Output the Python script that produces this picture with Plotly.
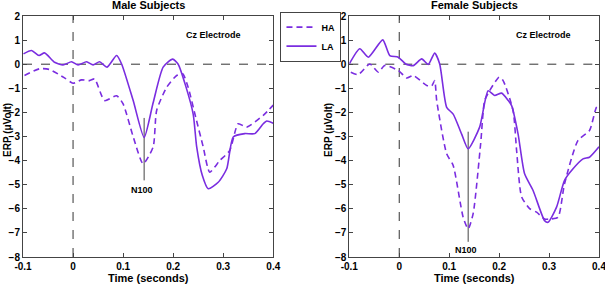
import plotly.graph_objects as go

# ---- Male subjects ----
male_la_t = [-0.099, -0.083, -0.068, -0.057, -0.037, -0.02, -0.003, 0.01, 0.027, 0.04, 0.053, 0.068, 0.087, 0.097,
             0.12, 0.142, 0.16, 0.18, 0.199, 0.21, 0.225, 0.24, 0.247, 0.258, 0.27, 0.29, 0.307, 0.32, 0.343, 0.363, 0.38, 0.387, 0.4]
male_la_v = [0.43, 0.57, 0.36, 0.47, 0.08, -0.03, 0.1, -0.03, 0.1, -0.03, 0.1, -0.12, 0.36, 0.01,
             -1.5, -3.04, -1.6, -0.12, 0.21, 0.0, -0.9, -2.07, -3.43, -4.6, -5.17, -4.9, -4.34, -3.02, -2.88, -2.88, -2.47, -2.36, -2.45]
male_ha_t = [-0.097, -0.067, -0.047, -0.017, 0.0, 0.017, 0.033, 0.043, 0.063, 0.087, 0.1, 0.12, 0.14, 0.16, 0.167, 0.187,
             0.207, 0.219, 0.23, 0.245, 0.26, 0.273, 0.293, 0.313, 0.33, 0.347, 0.38, 0.4]
male_ha_v = [-0.47, -0.19, -0.22, -0.57, -0.79, -0.65, -0.68, -0.61, -1.51, -1.31, -1.65, -3.0, -4.13, -3.43, -1.92, -0.96,
             -0.47, -0.4, -0.96, -2.2, -3.43, -4.48, -4.0, -3.58, -2.47, -2.61, -2.12, -1.7]

# ---- Female subjects ----
female_la_t = [-0.1, -0.079, -0.062, -0.033, -0.019, -0.002, 0.013, 0.028, 0.045, 0.058, 0.071, 0.081, 0.095, 0.108,
               0.125, 0.138, 0.161, 0.178, 0.191, 0.205, 0.218, 0.225, 0.238, 0.251, 0.268, 0.291, 0.298, 0.315, 0.331,
               0.348, 0.368, 0.381, 0.4]
female_la_v = [0.01, 0.64, 0.29, 1.01, 0.36, 0.29, 0.01, -0.06, 0.22, -0.01, 0.46, 0.01, -1.79, -2.07,
               -2.9, -3.51, -2.61, -1.1, -1.3, -1.2, -1.5, -1.72, -2.9, -4.55, -5.24, -6.49, -6.56, -5.93, -4.82,
               -4.34, -3.93, -3.86, -3.43]
female_ha_t = [-0.097, -0.082, -0.059, -0.042, -0.029, -0.002, 0.015, 0.028, 0.055, 0.065, 0.071, 0.075, 0.095, 0.108,
               0.128, 0.138, 0.148, 0.163, 0.171, 0.181, 0.2, 0.208, 0.228, 0.235, 0.245, 0.261, 0.275, 0.291, 0.305,
               0.318, 0.331, 0.358, 0.381, 0.395, 0.4]
female_ha_v = [-0.33, -0.43, 0.01, -0.33, -0.05, -0.26, -0.57, -0.47, -0.88, -0.9, -0.68, -1.51, -3.72, -4.2,
               -6.35, -6.83, -6.2, -3.3, -1.51, -1.1, -0.54, -0.68, -1.93, -3.58, -5.5, -5.99, -6.14, -6.42, -6.42,
               -6.35, -4.96, -3.16, -2.75, -1.79, -1.76]

titles = ["Male Subjects", "Female Subjects"]
n100_t = [0.142, 0.138]
n100_range = [(-2.23, -4.82), (-2.8, -7.37)]
n100_label_v = [-5.2, -7.7]

xticks = [-0.1, 0, 0.1, 0.2, 0.3, 0.4]
xtick_text = ["-0.1", "0", "0.1", "0.2", "0.3", "0.4"]
yticks = [2, 1, 0, -1, -2, -3, -4, -5, -6, -7, -8]

PURPLE = "#7a2de0"
FONT = "Liberation Sans"
DOMS = [[0.0, 0.4345], [0.5665, 1.0]]

fig = go.Figure()

series = [(male_ha_t, male_ha_v, male_la_t, male_la_v), (female_ha_t, female_ha_v, female_la_t, female_la_v)]
for i, (hat, hav, lat, lav) in enumerate(series):
    xa = "x" if i == 0 else "x2"
    ya = "y" if i == 0 else "y2"
    fig.add_trace(go.Scatter(x=[-0.1, 0.4], y=[0, 0], mode="lines", xaxis=xa, yaxis=ya,
                             line=dict(color="#333333", width=1, dash="dash"), showlegend=False, hoverinfo="skip"))
    fig.add_trace(go.Scatter(x=[0, 0], y=[-8, 2], mode="lines", xaxis=xa, yaxis=ya,
                             line=dict(color="#333333", width=1, dash="dash"), showlegend=False, hoverinfo="skip"))
    fig.add_trace(go.Scatter(x=[n100_t[i], n100_t[i]], y=list(n100_range[i]), mode="lines", xaxis=xa, yaxis=ya,
                             line=dict(color="#444444", width=1), showlegend=False, hoverinfo="skip"))
    fig.add_trace(go.Scatter(x=hat, y=hav, mode="lines", name="HA", xaxis=xa, yaxis=ya,
                             line=dict(color=PURPLE, width=1.6, dash="6px,4px", shape="spline", smoothing=0.6),
                             showlegend=(i == 0)))
    fig.add_trace(go.Scatter(x=lat, y=lav, mode="lines", name="LA", xaxis=xa, yaxis=ya,
                             line=dict(color=PURPLE, width=1.6, shape="spline", smoothing=0.6),
                             showlegend=(i == 0)))

axis_common = dict(showline=True, linecolor="#444444", linewidth=1, mirror="ticks", ticks="inside",
                   ticklen=4, tickcolor="#444444", showgrid=False, zeroline=False, automargin=False,
                   ticklabeloverflow="allow",
                   tickfont=dict(family=FONT, size=10, color="black", weight="bold"))

fig.update_layout(
    width=605, height=285,
    margin=dict(l=23, r=6, t=16, b=28),
    paper_bgcolor="white", plot_bgcolor="white",
    font=dict(family=FONT, color="black"),
    xaxis=dict(domain=DOMS[0], range=[-0.1, 0.4], tickvals=xticks, ticktext=xtick_text,
               anchor="y", **axis_common),
    xaxis2=dict(domain=DOMS[1], range=[-0.1, 0.4], tickvals=xticks, ticktext=xtick_text,
                anchor="y2", **axis_common),
    yaxis=dict(domain=[0, 1], range=[-8, 2], tickvals=yticks, anchor="x", **axis_common),
    yaxis2=dict(domain=[0, 1], range=[-8, 2], tickvals=yticks, anchor="x2", **axis_common),
    legend=dict(x=0.447, y=1.018, xanchor="left", yanchor="top", bgcolor="white",
                bordercolor="#444444", borderwidth=1,
                font=dict(family=FONT, size=9, color="black", weight="bold"),
                tracegroupgap=0, itemwidth=30),
    showlegend=True,
)

ann = []
for i in range(2):
    xr = "x" if i == 0 else "x2"
    yr = "y" if i == 0 else "y2"
    dom = DOMS[i]
    ann.append(dict(text="<b>" + titles[i] + "</b>", x=(dom[0] + dom[1]) / 2, y=1.046, xref="paper", yref="paper",
                    xanchor="center", yanchor="middle", showarrow=False, font=dict(family=FONT, size=11)))
    ann.append(dict(text="<b>Cz Electrode</b>", x=0.28 if i == 0 else 0.288, y=1.2, xref=xr, yref=yr,
                    showarrow=False, font=dict(family=FONT, size=9)))
    ann.append(dict(text="<b>N100</b>", x=n100_t[i] - 0.005, y=n100_label_v[i], xref=xr, yref=yr,
                    showarrow=False, font=dict(family=FONT, size=9)))
    ann.append(dict(text="<b>Time (seconds)</b>", x=(dom[0] + dom[1]) / 2, y=-0.087, xref="paper", yref="paper",
                    xanchor="center", yanchor="middle", showarrow=False, font=dict(family=FONT, size=11)))
    ann.append(dict(text="<b>ERP (μVolt)</b>", x=(8 - 23) / 576 if i == 0 else (329 - 23) / 576, y=0.527,
                    xref="paper", yref="paper", xanchor="center", yanchor="middle",
                    textangle=-90, showarrow=False, font=dict(family=FONT, size=10)))
fig.update_layout(annotations=ann)

fig.write_html("out.html", config={"displayModeBar": False},
               post_script="document.body.style.margin='0';document.body.style.overflow='hidden';")
